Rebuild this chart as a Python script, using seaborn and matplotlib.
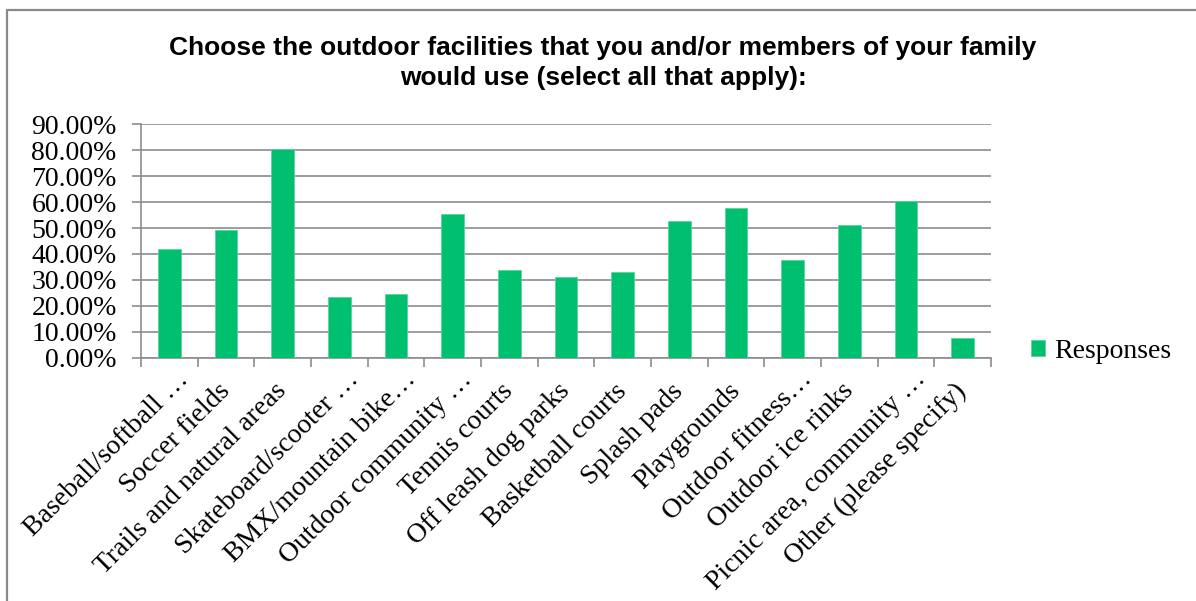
import matplotlib
matplotlib.use("Agg")
import matplotlib.pyplot as plt
from matplotlib.lines import Line2D
from matplotlib.patches import Patch
from matplotlib.ticker import FixedLocator, FuncFormatter
import matplotlib.transforms as mtransforms
import seaborn as sns
import pandas as pd

# Survey results: share of respondents choosing each facility
facilities = [
    "Baseball/softball …",
    "Soccer fields",
    "Trails and natural areas",
    "Skateboard/scooter …",
    "BMX/mountain bike…",
    "Outdoor community …",
    "Tennis courts",
    "Off leash dog parks",
    "Basketball courts",
    "Splash pads",
    "Playgrounds",
    "Outdoor fitness…",
    "Outdoor ice rinks",
    "Picnic area, community …",
    "Other (please specify)",
]
responses = [0.418, 0.491, 0.805, 0.233, 0.244, 0.554, 0.337, 0.310,
             0.332, 0.527, 0.577, 0.378, 0.510, 0.604, 0.075]
y_ticks = [0.0, 0.1, 0.2, 0.3, 0.4, 0.5, 0.6, 0.7, 0.8, 0.9]

title = ("Choose the outdoor facilities that you and/or members of your family\n"
         "would use (select all that apply):")
series_name = "Responses"

df = pd.DataFrame({"facility": facilities, "share": responses})

sns.set_theme(style="white")
plt.rcParams["font.family"] = ["Liberation Serif", "DejaVu Serif"]
plt.rcParams["text.color"] = "black"
plt.rcParams["xtick.color"] = "black"
plt.rcParams["ytick.color"] = "black"

W, H = 1196, 601
fig = plt.figure(figsize=(W / 100, H / 100), dpi=100)
fig.patch.set_facecolor("white")

green = "#00BF6F"
grid_gray = "#8C8C8C"

ax = fig.add_axes([141 / W, 1 - 357.7 / H, (991 - 141) / W, (357.7 - 124.3) / H])
sns.barplot(data=df, x="facility", y="share", color=green, saturation=1,
            width=0.40, edgecolor="#59D49B", linewidth=0.6, ax=ax, zorder=3)

ax.set_ylim(0, 0.9)
ax.set_xlim(-0.5, len(facilities) - 0.5)
ax.yaxis.set_major_locator(FixedLocator(y_ticks))
ax.yaxis.set_major_formatter(FuncFormatter(lambda v, _: f"{v * 100:.2f}%"))
ax.grid(axis="y", color=grid_gray, linewidth=1.2, zorder=0)
ax.grid(axis="x", visible=False)
ax.set_axisbelow(True)
ax.set_xlabel("")
ax.set_ylabel("")

for side in ("top", "right"):
    ax.spines[side].set_visible(False)
for side in ("left", "bottom"):
    ax.spines[side].set_color(grid_gray)
    ax.spines[side].set_linewidth(1.2)

ax.tick_params(axis="y", which="major", direction="out", length=6.5, width=1.2,
               color=grid_gray, labelcolor="black", labelsize=20, pad=11, left=True)

# category boundary ticks on the x axis
ax.xaxis.set_minor_locator(FixedLocator([i - 0.5 for i in range(len(facilities) + 1)]))
ax.tick_params(axis="x", which="minor", direction="out", length=6.5, width=1.2,
               color=grid_gray, bottom=True)
ax.tick_params(axis="x", which="major", length=0, pad=2, labelcolor="black")

ax.set_xticks(range(len(facilities)))
ax.set_xticklabels(facilities, rotation=45, ha="right", va="center",
                   rotation_mode="anchor", fontsize=20)
shift = mtransforms.ScaledTranslation(0 / 100, -27 / 100, fig.dpi_scale_trans)
# truncated names sit further along their slant
trunc_shift = mtransforms.ScaledTranslation(16 / 100, 12 / 100, fig.dpi_scale_trans)
for lbl in ax.get_xticklabels():
    tr = lbl.get_transform() + shift
    if lbl.get_text().endswith("…"):
        tr = tr + trunc_shift
    lbl.set_transform(tr)

fig.text(603 / W, 1 - 63 / H, title, ha="center", va="center", color="black",
         family=["Liberation Sans", "DejaVu Sans"], fontweight="bold",
         fontsize=19, linespacing=1.3)

handle = Patch(facecolor=green, edgecolor="#59D49B", linewidth=0.6)
fig.legend([handle], [series_name], loc="center left",
           bbox_to_anchor=(1031 / W, 1 - 351 / H), frameon=False,
           fontsize=20, handlelength=0.5, handleheight=0.5,
           handletextpad=0.35, borderaxespad=0, borderpad=0,
           labelcolor="black")

# chart frame
frame_kw = dict(color="#8A8A8A", linewidth=1.6, transform=fig.transFigure)
fig.add_artist(Line2D([7 / W, 1.0], [1 - 10 / H, 1 - 10 / H], **frame_kw))
fig.add_artist(Line2D([7 / W, 7 / W], [0.0, 1 - 10 / H], **frame_kw))

fig.savefig("out.png", dpi=100, facecolor="white")
